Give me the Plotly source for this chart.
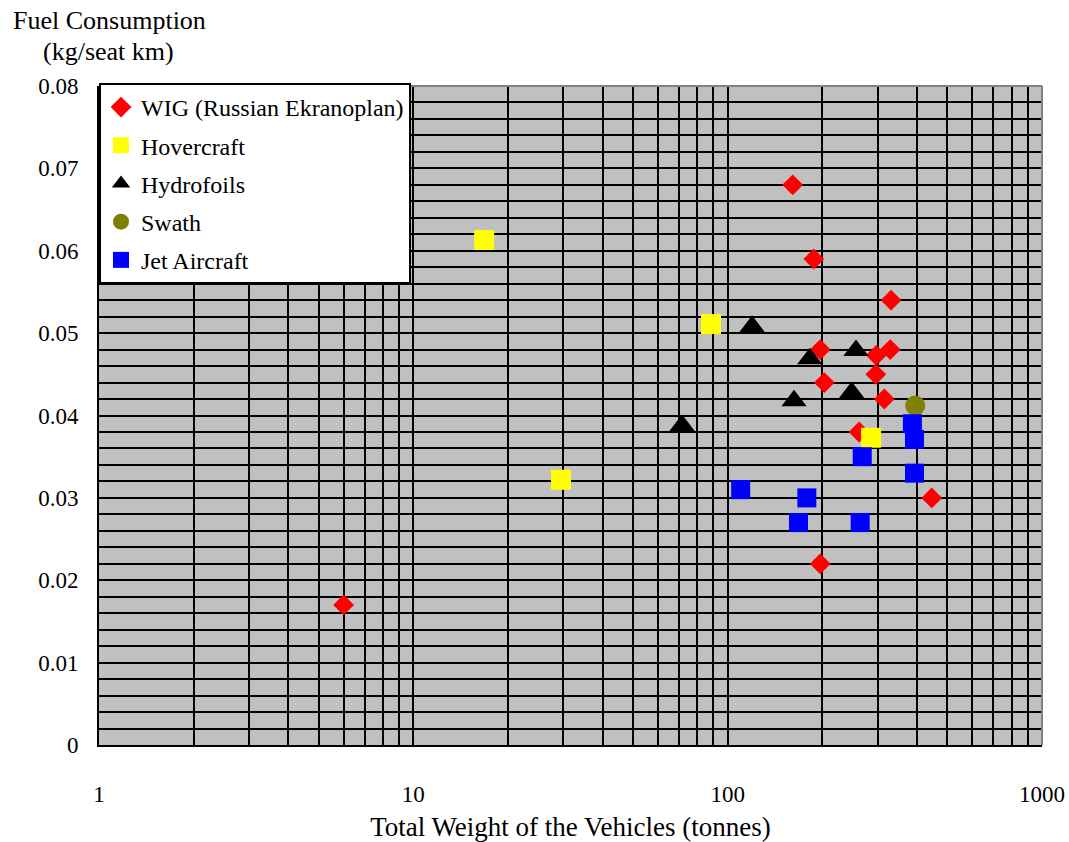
import plotly.graph_objects as go

# ---- data ----
wig_x = [6, 161, 188, 331, 197, 329, 297, 296, 203, 315, 262, 446, 197]
wig_y = [0.017, 0.068, 0.059, 0.054, 0.048, 0.048, 0.0473, 0.045, 0.044, 0.042, 0.038, 0.030, 0.022]

hover_x = [16.8, 88.5, 29.5, 286]
hover_y = [0.0613, 0.0511, 0.0322, 0.0373]

hydro_x = [119.6, 182.5, 256, 162.6, 248, 71.6]
hydro_y = [0.0508, 0.0469, 0.0479, 0.0418, 0.0428, 0.0388]

swath_x = [395]
swath_y = [0.0412]

jet_x = [387, 393, 268, 393, 110, 178.6, 168, 264]
jet_y = [0.039, 0.0371, 0.035, 0.033, 0.031, 0.030, 0.027, 0.027]

x_tick_vals = [1, 10, 100, 1000]
x_tick_text = ["1", "10", "100", "1000"]

FONT = "Liberation Serif, Times New Roman, serif"

fig = go.Figure()
series = [
    ("WIG (Russian Ekranoplan)", wig_x, wig_y, "diamond", "#FF0000", 16),
    ("Hovercraft", hover_x, hover_y, "square", "#FFFF00", 20),
    ("Hydrofoils", hydro_x, hydro_y, "triangle-up", "#000000", 22),
    ("Swath", swath_x, swath_y, "circle", "#808000", 20),
    ("Jet Aircraft", jet_x, jet_y, "square", "#0000FF", 19),
]
for i, (name, xs, ys, sym, col, sz) in enumerate(series):
    fig.add_trace(go.Scatter(
        x=xs, y=ys, mode="markers", name=name, legendgroup=f"g{i}",
        marker=dict(symbol=sym, color=col, size=sz, line=dict(width=0)),
    ))

fig.update_layout(
    width=1069, height=842,
    margin=dict(l=99, r=27, t=86, b=97, autoexpand=False),
    paper_bgcolor="white",
    plot_bgcolor="#C0C0C0",
    font=dict(family=FONT, size=23, color="black"),
    showlegend=True,
    legend=dict(
        x=0, y=1.0046, xanchor="left", yanchor="top",
        bgcolor="white", bordercolor="black", borderwidth=2,
        font=dict(family=FONT, size=24, color="black"),
        traceorder="grouped", tracegroupgap=4, itemwidth=30,
    ),
    xaxis=dict(
        type="log", range=[0, 3],
        tickvals=x_tick_vals, ticktext=x_tick_text,
        showgrid=True, gridcolor="black", gridwidth=1.5,
        minor=dict(dtick="D1", showgrid=True, gridcolor="black", gridwidth=1.5),
        showline=True, linecolor="black", linewidth=2,
        ticks="", ticklabelstandoff=27,
        tickfont=dict(family=FONT, size=23),
        title=dict(text="Total Weight of the Vehicles (tonnes)", standoff=22,
                   font=dict(family=FONT, size=27)),
        zeroline=False,
    ),
    yaxis=dict(
        range=[0, 0.08], dtick=0.01,
        showgrid=True, gridcolor="black", gridwidth=1.5,
        minor=dict(dtick=0.002, showgrid=True, gridcolor="black", gridwidth=1.5),
        showline=True, linecolor="black", linewidth=2,
        ticks="", ticklabelstandoff=14,
        tickfont=dict(family=FONT, size=23),
        zeroline=False,
    ),
    annotations=[
        dict(text="Fuel Consumption", xref="paper", yref="paper",
             x=-0.0933, y=1.100, xanchor="left", yanchor="middle",
             showarrow=False, font=dict(family=FONT, size=26)),
        dict(text="(kg/seat km)", xref="paper", yref="paper",
             x=-0.0615, y=1.0516, xanchor="left", yanchor="middle",
             showarrow=False, font=dict(family=FONT, size=26)),
    ],
    shapes=[
        dict(type="line", xref="paper", yref="paper", x0=0, x1=1, y0=1, y1=1,
             line=dict(color="#808080", width=2), layer="above"),
        dict(type="line", xref="paper", yref="paper", x0=1, x1=1, y0=0, y1=1,
             line=dict(color="#808080", width=2), layer="above"),
    ],
)

fig.write_html("out.html", config={"displayModeBar": False},
               post_script="document.body.style.margin='0';")
